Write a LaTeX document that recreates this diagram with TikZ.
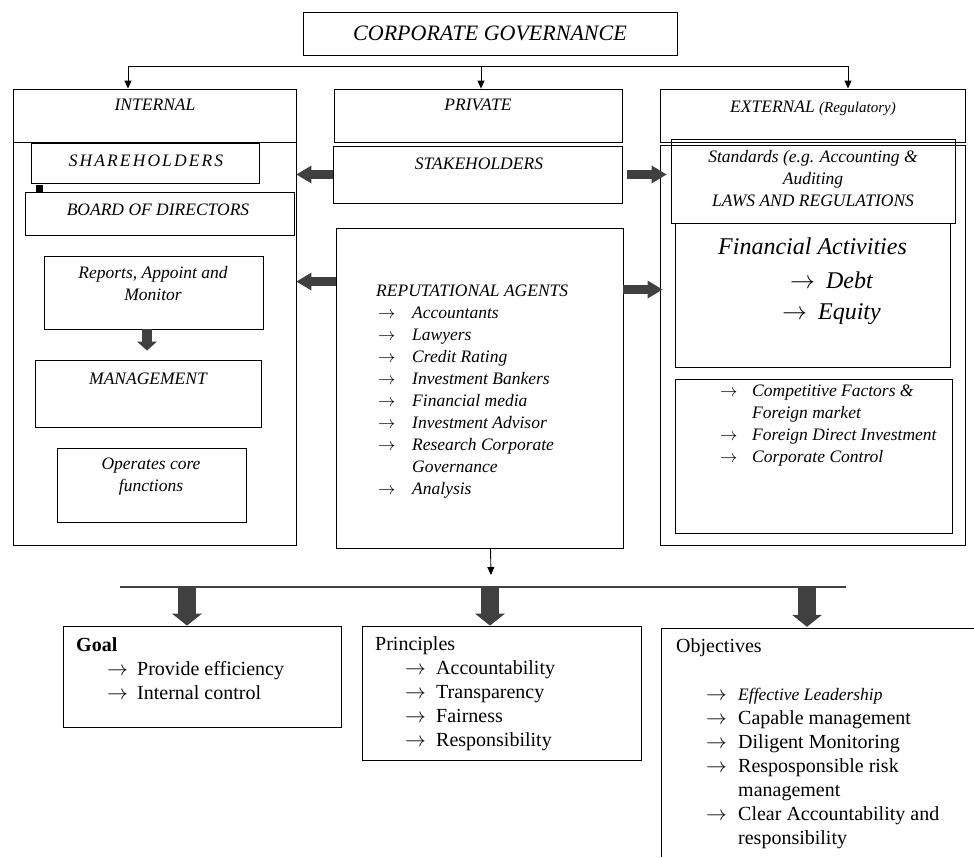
\documentclass[tikz,border=0pt]{standalone}
\usepackage{fontspec}
\setmainfont{Liberation Serif}
\usetikzlibrary{fit,arrows.meta}
\definecolor{fatgray}{HTML}{404040}
\begin{document}
\begin{tikzpicture}[x=1pt,y=-1pt,
  box/.style={draw,line width=0.9pt,inner sep=0pt},
  txt/.style={inner sep=0pt,font=\fontsize{17.5}{22}\selectfont\itshape},
  rtxt/.style={inner sep=0pt,font=\fontsize{20}{24}\selectfont},
  thinarr/.style={line width=0.9pt,-{Triangle[length=8pt,width=7pt]}},
  fath/.style={draw=fatgray,line width=9pt,-{Triangle[length=15pt,width=18pt,line width=0pt]}},
  fatv/.style={draw=fatgray,line width=18pt,-{Triangle[length=12pt,width=30pt,line width=0pt]}},
]
\useasboundingbox (0,0) rectangle (974,857);

% title
\node[box,fit={(303,12)(677,55)}] (cg) {};
\node[txt,font=\fontsize{22}{24}\selectfont\itshape] (cgt) at (cg.center) {CORPORATE GOVERNANCE};

% headers
\node[box,fit={(13,89)(296,142)}] (inth) {};
\node[box,fit={(13,142)(296,545)}] (intb) {};
\node[box,fit={(334,89)(622,142)}] (prih) {};
\node[box,fit={(660,89)(965,142)}] (exth) {};
\node[box,fit={(660,145)(965,545)}] (extb) {};
\node[txt] (intt) at (155,105) {INTERNAL};
\node[txt] (prit) at (478,105) {PRIVATE};
\node[txt] (extt) at (813,108) {EXTERNAL {\fontsize{15}{16}\selectfont(Regulatory)}};

\coordinate (tl) at (128,66);
\coordinate (tm) at (481,66);
\coordinate (tr) at (848,66);
\draw[line width=0.9pt] (tl) -- (tr);
\draw[thinarr] (tl) -- (tl |- inth.north);
\draw[thinarr] (tm) -- (tm |- prih.north);
\draw[thinarr] (tr) -- (tr |- exth.north);

% internal
\node[box,fit={(31,143)(259,183)}] (sh) {};
\node[txt,font=\fontsize{17.5}{22}\selectfont\itshape\addfontfeature{LetterSpace=12}] (sht) at (146,161) {SHAREHOLDERS};
\fill (36,185) rectangle (43,192);
\node[box,fit={(25,192)(294,235)}] (bod) {};
\node[txt] (bodt) at (158,210) {BOARD OF DIRECTORS};
\node[box,fit={(44,256)(263,329)}] (repm) {};
\node[txt,align=center] (repmt) at (153,284) {Reports, Appoint and\\Monitor};
\node[box,fit={(35,360)(261,427)}] (mgmt) {};
\node[txt] (mgmtt) at (148,379) {MANAGEMENT};
\node[box,fit={(57,448)(246,522)}] (ops) {};
\node[txt,align=center] (opst) at (151,477) {Operates core\\functions};
\coordinate (rmA) at (147,329);
\draw[draw=fatgray,line width=10pt,shorten >=9pt,-{Triangle[length=9pt,width=20pt,line width=0pt]}] (rmA) -- (rmA |- mgmt.north);

% private
\node[box,fit={(333,146)(622,203)}] (stake) {};
\node[txt] (staket) at (479,164) {STAKEHOLDERS};
\node[box,fit={(336,228)(623,548)}] (ra) {};
\node[txt,anchor=north west] (rat) at (376,281) {\begin{tabular}{@{}p{36pt}@{}l@{}}
\multicolumn{2}{@{}l@{}}{REPUTATIONAL AGENTS}\\
\hspace*{2pt}$\rightarrow$ & Accountants\\
\hspace*{2pt}$\rightarrow$ & Lawyers\\
\hspace*{2pt}$\rightarrow$ & Credit Rating\\
\hspace*{2pt}$\rightarrow$ & Investment Bankers\\
\hspace*{2pt}$\rightarrow$ & Financial media\\
\hspace*{2pt}$\rightarrow$ & Investment Advisor\\
\hspace*{2pt}$\rightarrow$ & Research Corporate\\
 & Governance\\
\hspace*{2pt}$\rightarrow$ & Analysis
\end{tabular}};

% external
\node[box,fit={(671,139)(955,223)}] (std) {};
\node[txt,align=center] (stdt) at (813,179) {Standards (e.g. Accounting \&\\Auditing\\LAWS AND REGULATIONS};
\node[box,fit={(675,223)(950,367)}] (fin) {};
\node[inner sep=0pt,anchor=west,font=\fontsize{24}{26}\selectfont\itshape] (fint) at (718,246) {Financial Activities};
\node[inner sep=0pt,anchor=west,font=\fontsize{24}{26}\selectfont\itshape] (debt) at (790,280) {$\rightarrow$\hspace{11pt}Debt};
\node[inner sep=0pt,anchor=west,font=\fontsize{24}{26}\selectfont\itshape] (eqt) at (782,314) {$\rightarrow$\hspace{11pt}Equity};
\node[box,fit={(675,379)(952,533)}] (comp) {};
\node[txt,anchor=north west] (compt) at (720,381) {\begin{tabular}{@{}p{32pt}@{}l@{}}
$\rightarrow$ & Competitive Factors \&\\
 & Foreign market\\
$\rightarrow$ & Foreign Direct Investment\\
$\rightarrow$ & Corporate Control
\end{tabular}};

% horizontal block arrows
\coordinate (raL) at ([yshift=-54pt]ra.north west);
\coordinate (raR) at ([yshift=-62pt]ra.north east);
\coordinate (stR) at ([xshift=5pt]stake.east);
\draw[fath] (stake.west) -- (stake.west -| intb.east);
\draw[fath] (raL) -- (raL -| intb.east);
\draw[fath,shorten >=4pt] (stR) -- (stR -| std.west);
\draw[fath,shorten >=-3pt] (raR) -- (raR -| extb.west);

% bottom
\coordinate (rb) at ([xshift=11pt]ra.south);
\coordinate (rbe) at (491,575);
\draw[thinarr] (rb) -- (rbe);
\coordinate (bl) at (120,587);
\coordinate (br) at (846,587);
\draw[line width=1.1pt,black!75] (bl) -- (br);

\node[box,fit={(63,626)(341,727)}] (goal) {};
\node[box,fit={(362,626)(641,760)}] (prin) {};
\node[inner sep=0pt,fit={(662,629)(974,857)}] (obj) {};
\draw[line width=0.9pt] (obj.north east) -- (obj.north west) -- (obj.south west);

\coordinate (d1) at (187,587);
\coordinate (d2) at (490,587);
\coordinate (d3) at (807,587);
\draw[fatv] (d1) -- (d1 |- goal.north);
\draw[fatv] (d2) -- (d2 |- prin.north);
\draw[fatv,shorten >=2pt] (d3) -- (d3 |- obj.north);

\node[rtxt,anchor=north west] (goalt) at (76,634) {\begin{tabular}{@{}p{61pt}@{}l@{}}
\multicolumn{2}{@{}l@{}}{\bfseries Goal}\\
\hspace*{31pt}$\rightarrow$ & Provide efficiency\\
\hspace*{31pt}$\rightarrow$ & Internal control
\end{tabular}};
\node[rtxt,anchor=north west] (print) at (375,633) {\begin{tabular}{@{}p{61pt}@{}l@{}}
\multicolumn{2}{@{}l@{}}{Principles}\\
\hspace*{30pt}$\rightarrow$ & Accountability\\
\hspace*{30pt}$\rightarrow$ & Transparency\\
\hspace*{30pt}$\rightarrow$ & Fairness\\
\hspace*{30pt}$\rightarrow$ & Responsibility
\end{tabular}};
\node[rtxt,anchor=north west] (objt) at (676,635) {\begin{tabular}{@{}p{62pt}@{}l@{}}
\multicolumn{2}{@{}l@{}}{Objectives}\\[24pt]
\hspace*{30pt}$\rightarrow$ & {\fontsize{17.5}{24}\selectfont\itshape Effective Leadership}\\
\hspace*{30pt}$\rightarrow$ & Capable management\\
\hspace*{30pt}$\rightarrow$ & Diligent Monitoring\\
\hspace*{30pt}$\rightarrow$ & Resposponsible risk\\
 & management\\
\hspace*{30pt}$\rightarrow$ & Clear Accountability and\\
 & responsibility
\end{tabular}};
\end{tikzpicture}
\end{document}
